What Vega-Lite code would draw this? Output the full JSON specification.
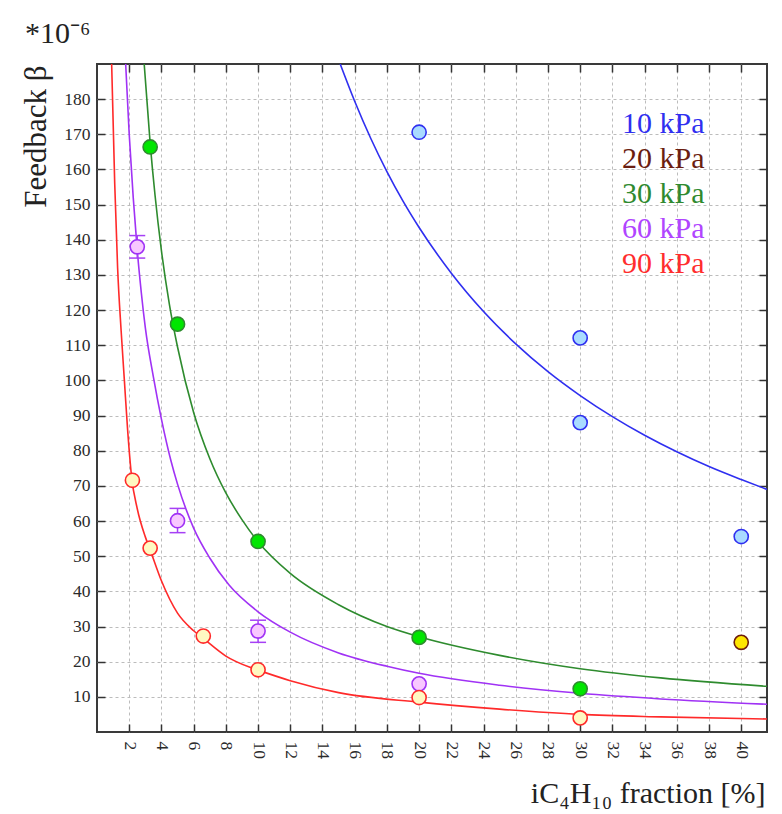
{
  "$schema": "https://vega.github.io/schema/vega-lite/v6.json",
  "width": 670,
  "height": 668,
  "autosize": {"type": "none"},
  "padding": {"left": 97, "top": 64, "right": 15, "bottom": 82},
  "background": "white",
  "title": {
    "text": "*10⁻⁶",
    "anchor": "start",
    "frame": "group",
    "dx": -72,
    "dy": 30,
    "offset": 20,
    "baseline": "alphabetic",
    "font": "Liberation Serif",
    "fontSize": 30,
    "fontWeight": "normal",
    "color": "#222222"
  },
  "config": {
    "view": {"stroke": "#3a3a3a", "strokeWidth": 2},
    "axis": {
      "labelFont": "Liberation Serif",
      "labelFontSize": 17.5,
      "labelColor": "#2a2a2a",
      "tickColor": "#333333",
      "tickWidth": 1.5,
      "tickSize": -8,
      "domain": false,
      "gridColor": "#bcbcbc",
      "gridDash": [3, 3],
      "gridWidth": 1,
      "titleFont": "Liberation Serif",
      "titleFontWeight": "normal",
      "titleColor": "#222222"
    },
    "legend": {
      "orient": "none",
      "legendX": 495,
      "legendY": 45,
      "direction": "vertical",
      "symbolSize": 0,
      "symbolStrokeWidth": 0,
      "symbolOpacity": 0,
      "labelOffset": 0,
      "labelFont": "Liberation Serif",
      "labelFontSize": 30,
      "rowPadding": 5,
      "padding": 0
    }
  },
  "datasets": {
    "measured": [
      {"series": "10 kPa", "x": 20, "y": 170.6},
      {"series": "10 kPa", "x": 30, "y": 112.1},
      {"series": "10 kPa", "x": 30, "y": 88.0},
      {"series": "10 kPa", "x": 40, "y": 55.6},
      {"series": "20 kPa", "x": 40, "y": 25.5},
      {"series": "30 kPa", "x": 3.3, "y": 166.4},
      {"series": "30 kPa", "x": 5.0, "y": 116.0},
      {"series": "30 kPa", "x": 10, "y": 54.2},
      {"series": "30 kPa", "x": 20, "y": 26.9},
      {"series": "30 kPa", "x": 30, "y": 12.3},
      {"series": "60 kPa", "x": 2.5, "y": 138.0},
      {"series": "60 kPa", "x": 5.0, "y": 60.1},
      {"series": "60 kPa", "x": 10, "y": 28.7},
      {"series": "60 kPa", "x": 20, "y": 13.7},
      {"series": "90 kPa", "x": 2.2, "y": 71.6},
      {"series": "90 kPa", "x": 3.3, "y": 52.3},
      {"series": "90 kPa", "x": 6.6, "y": 27.3},
      {"series": "90 kPa", "x": 10, "y": 17.7},
      {"series": "90 kPa", "x": 20, "y": 9.8},
      {"series": "90 kPa", "x": 30, "y": 4.0}
    ],
    "errors": [
      {"series": "60 kPa", "x": 2.5, "lo": 134.8, "hi": 141.2},
      {"series": "60 kPa", "x": 5.0, "lo": 56.7, "hi": 63.6},
      {"series": "60 kPa", "x": 10, "lo": 25.5, "hi": 31.8}
    ],
    "fit": [
      {"series": "10 kPa", "x": 15.1, "y": 190},
      {"series": "10 kPa", "x": 16, "y": 179.4},
      {"series": "10 kPa", "x": 17, "y": 168.8},
      {"series": "10 kPa", "x": 18, "y": 159.4},
      {"series": "10 kPa", "x": 19, "y": 151.0},
      {"series": "10 kPa", "x": 20, "y": 143.5},
      {"series": "10 kPa", "x": 22, "y": 130.5},
      {"series": "10 kPa", "x": 24, "y": 119.6},
      {"series": "10 kPa", "x": 26, "y": 110.4},
      {"series": "10 kPa", "x": 28, "y": 102.5},
      {"series": "10 kPa", "x": 30, "y": 95.7},
      {"series": "10 kPa", "x": 32, "y": 89.7},
      {"series": "10 kPa", "x": 34, "y": 84.4},
      {"series": "10 kPa", "x": 36, "y": 79.7},
      {"series": "10 kPa", "x": 38, "y": 75.5},
      {"series": "10 kPa", "x": 40, "y": 71.8},
      {"series": "10 kPa", "x": 41.6, "y": 69.0},
      {"series": "30 kPa", "x": 2.93, "y": 190},
      {"series": "30 kPa", "x": 3.3, "y": 167.5},
      {"series": "30 kPa", "x": 3.6, "y": 152.8},
      {"series": "30 kPa", "x": 4.0, "y": 136.9},
      {"series": "30 kPa", "x": 4.5, "y": 121.5},
      {"series": "30 kPa", "x": 5.0, "y": 109.5},
      {"series": "30 kPa", "x": 6.0, "y": 90.9},
      {"series": "30 kPa", "x": 7.0, "y": 77.8},
      {"series": "30 kPa", "x": 8.0, "y": 68.0},
      {"series": "30 kPa", "x": 9.0, "y": 60.4},
      {"series": "30 kPa", "x": 10, "y": 54.1},
      {"series": "30 kPa", "x": 12, "y": 45.1},
      {"series": "30 kPa", "x": 15, "y": 36.2},
      {"series": "30 kPa", "x": 18, "y": 30.0},
      {"series": "30 kPa", "x": 20, "y": 27.1},
      {"series": "30 kPa", "x": 25, "y": 21.8},
      {"series": "30 kPa", "x": 30, "y": 18.0},
      {"series": "30 kPa", "x": 35, "y": 15.4},
      {"series": "30 kPa", "x": 41.6, "y": 13.0},
      {"series": "60 kPa", "x": 1.78, "y": 190},
      {"series": "60 kPa", "x": 2.0, "y": 170},
      {"series": "60 kPa", "x": 2.25, "y": 152},
      {"series": "60 kPa", "x": 2.5, "y": 137},
      {"series": "60 kPa", "x": 2.75, "y": 125},
      {"series": "60 kPa", "x": 3.0, "y": 115},
      {"series": "60 kPa", "x": 3.5, "y": 101},
      {"series": "60 kPa", "x": 4.0, "y": 89},
      {"series": "60 kPa", "x": 4.6, "y": 77},
      {"series": "60 kPa", "x": 5.0, "y": 70.5},
      {"series": "60 kPa", "x": 6.0, "y": 58.0},
      {"series": "60 kPa", "x": 7.0, "y": 49.5},
      {"series": "60 kPa", "x": 8.2, "y": 41.8},
      {"series": "60 kPa", "x": 10, "y": 34.2},
      {"series": "60 kPa", "x": 12, "y": 28.4},
      {"series": "60 kPa", "x": 15, "y": 22.5},
      {"series": "60 kPa", "x": 18, "y": 18.7},
      {"series": "60 kPa", "x": 20, "y": 16.7},
      {"series": "60 kPa", "x": 25, "y": 13.3},
      {"series": "60 kPa", "x": 30, "y": 11.0},
      {"series": "60 kPa", "x": 35, "y": 9.4},
      {"series": "60 kPa", "x": 41.6, "y": 7.9},
      {"series": "90 kPa", "x": 0.91, "y": 190},
      {"series": "90 kPa", "x": 1.1, "y": 156},
      {"series": "90 kPa", "x": 1.28, "y": 132},
      {"series": "90 kPa", "x": 1.5, "y": 114},
      {"series": "90 kPa", "x": 1.7, "y": 100},
      {"series": "90 kPa", "x": 1.9, "y": 86},
      {"series": "90 kPa", "x": 2.15, "y": 72.5},
      {"series": "90 kPa", "x": 2.5, "y": 63.5},
      {"series": "90 kPa", "x": 3.0, "y": 55.5},
      {"series": "90 kPa", "x": 3.3, "y": 51.8},
      {"series": "90 kPa", "x": 4.0, "y": 43.0},
      {"series": "90 kPa", "x": 5.0, "y": 33.8},
      {"series": "90 kPa", "x": 6.0, "y": 28.8},
      {"series": "90 kPa", "x": 6.6, "y": 26.6},
      {"series": "90 kPa", "x": 8.0, "y": 21.6},
      {"series": "90 kPa", "x": 9.5, "y": 18.4},
      {"series": "90 kPa", "x": 10, "y": 17.6},
      {"series": "90 kPa", "x": 12, "y": 14.6},
      {"series": "90 kPa", "x": 15, "y": 11.2},
      {"series": "90 kPa", "x": 20, "y": 8.5},
      {"series": "90 kPa", "x": 25, "y": 6.5},
      {"series": "90 kPa", "x": 30, "y": 5.0},
      {"series": "90 kPa", "x": 35, "y": 4.3},
      {"series": "90 kPa", "x": 41.6, "y": 3.7}
    ]
  },
  "layer": [
    {
      "data": {"name": "fit"},
      "mark": {"type": "line", "strokeWidth": 1.6, "interpolate": "monotone", "clip": true},
      "encoding": {
        "x": {
          "field": "x",
          "type": "quantitative",
          "scale": {"domain": [0, 41.6], "nice": false, "zero": false},
          "axis": {
            "orient": "bottom",
            "values": [2, 4, 6, 8, 10, 12, 14, 16, 18, 20, 22, 24, 26, 28, 30, 32, 34, 36, 38, 40],
            "labelFont": "Liberation Serif",
            "labelFontSize": 17.5,
            "labelAngle": 90,
            "labelAlign": "left",
            "labelBaseline": "middle",
            "labelPadding": 17,
            "grid": true,
            "title": "iC₄H₁₀ fraction [%]",
            "titleFontSize": 30,
            "titleAlign": "right",
            "titleBaseline": "alphabetic",
            "titleX": 668,
            "titleY": 70
          }
        },
        "y": {
          "field": "y",
          "type": "quantitative",
          "scale": {"domain": [0, 190], "nice": false, "zero": true},
          "axis": {
            "orient": "left",
            "values": [10, 20, 30, 40, 50, 60, 70, 80, 90, 100, 110, 120, 130, 140, 150, 160, 170, 180],
            "labelFont": "Liberation Serif",
            "labelFontSize": 17.5,
            "labelPadding": 15,
            "grid": true,
            "title": "Feedback β",
            "titleFontSize": 31,
            "titleAngle": -90,
            "titleAlign": "right",
            "titleBaseline": "middle",
            "titleX": -61,
            "titleY": 1
          }
        },
        "stroke": {
          "field": "series",
          "type": "nominal",
          "scale": {
            "domain": ["10 kPa", "20 kPa", "30 kPa", "60 kPa", "90 kPa"],
            "range": ["#2f2ff0", "#6e1c0c", "#2e8b2e", "#a032f5", "#ff2a2a"]
          },
          "legend": {
            "title": null,
            "labelColor": {"expr": "datum.value === '10 kPa' ? '#2f2ff0' : datum.value === '20 kPa' ? '#6b1e10' : datum.value === '30 kPa' ? '#2f8a2f' : datum.value === '60 kPa' ? '#b045ff' : '#ff2d2d'"}
          }
        },
        "detail": {"field": "series", "type": "nominal"}
      }
    },
    {
      "data": {"name": "errors"},
      "mark": {"type": "rule", "stroke": "#a640f5", "strokeWidth": 1.5},
      "encoding": {
        "x": {"field": "x", "type": "quantitative", "axis": null},
        "y": {"field": "lo", "type": "quantitative", "axis": null},
        "y2": {"field": "hi"}
      }
    },
    {
      "data": {"name": "errors"},
      "mark": {"type": "tick", "orient": "horizontal", "size": 16, "thickness": 1.5, "color": "#a640f5", "opacity": 1},
      "encoding": {
        "x": {"field": "x", "type": "quantitative", "axis": null},
        "y": {"field": "lo", "type": "quantitative", "axis": null}
      }
    },
    {
      "data": {"name": "errors"},
      "mark": {"type": "tick", "orient": "horizontal", "size": 16, "thickness": 1.5, "color": "#a640f5", "opacity": 1},
      "encoding": {
        "x": {"field": "x", "type": "quantitative", "axis": null},
        "y": {"field": "hi", "type": "quantitative", "axis": null}
      }
    },
    {
      "data": {"name": "measured"},
      "mark": {"type": "circle", "size": 200, "strokeWidth": 1.6, "opacity": 1},
      "encoding": {
        "x": {
          "field": "x",
          "type": "quantitative",
          "axis": {
            "orient": "top",
            "values": [2, 4, 6, 8, 10, 12, 14, 16, 18, 20, 22, 24, 26, 28, 30, 32, 34, 36, 38, 40],
            "labels": false,
            "grid": false,
            "title": null
          }
        },
        "y": {
          "field": "y",
          "type": "quantitative",
          "axis": {
            "orient": "right",
            "values": [10, 20, 30, 40, 50, 60, 70, 80, 90, 100, 110, 120, 130, 140, 150, 160, 170, 180],
            "labels": false,
            "grid": false,
            "title": null
          }
        },
        "fill": {
          "field": "series",
          "type": "nominal",
          "scale": {
            "domain": ["10 kPa", "20 kPa", "30 kPa", "60 kPa", "90 kPa"],
            "range": ["#a9dbff", "#ffe600", "#00e600", "#f8c8ff", "#fff9c2"]
          },
          "legend": null
        },
        "stroke": {
          "field": "series",
          "type": "nominal",
          "legend": {
            "title": null,
            "labelColor": {"expr": "datum.value === '10 kPa' ? '#2f2ff0' : datum.value === '20 kPa' ? '#6b1e10' : datum.value === '30 kPa' ? '#2f8a2f' : datum.value === '60 kPa' ? '#b045ff' : '#ff2d2d'"}
          }
        }
      }
    }
  ],
  "resolve": {"axis": {"x": "independent", "y": "independent"}}
}
